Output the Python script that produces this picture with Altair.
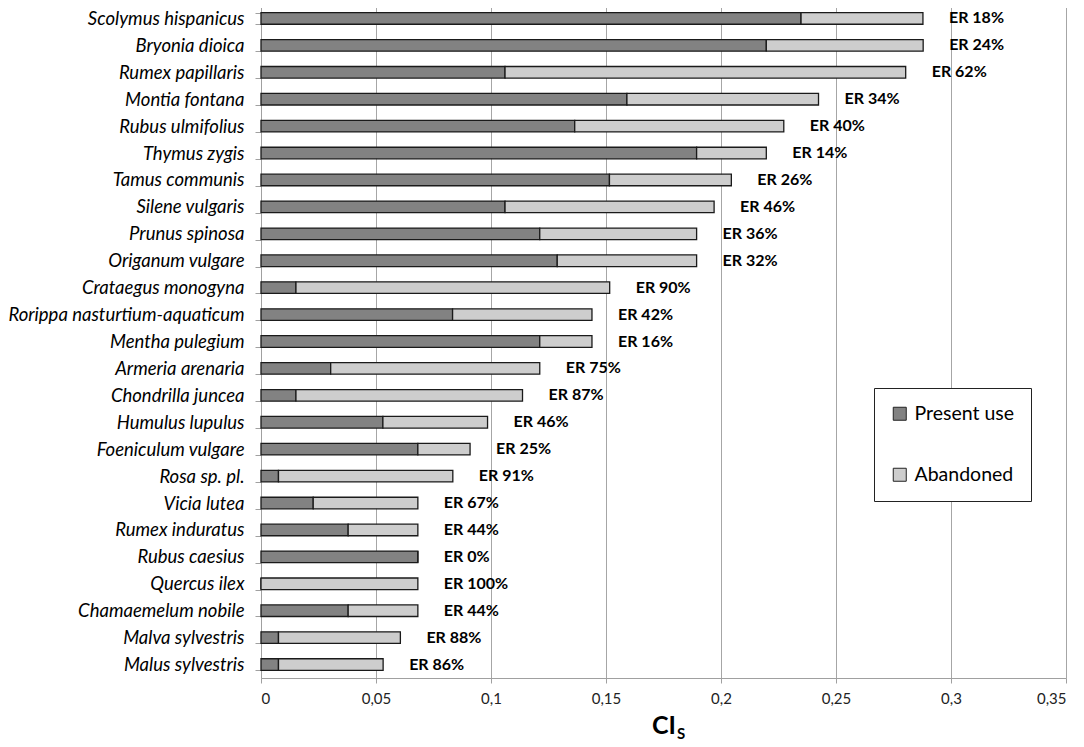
import altair as alt
import pandas as pd

species = [
    "Scolymus hispanicus", "Bryonia dioica", "Rumex papillaris", "Montia fontana",
    "Rubus ulmifolius", "Thymus zygis", "Tamus communis", "Silene vulgaris",
    "Prunus spinosa", "Origanum vulgare", "Crataegus monogyna",
    "Rorippa nasturtium-aquaticum", "Mentha pulegium", "Armeria arenaria",
    "Chondrilla juncea", "Humulus lupulus", "Foeniculum vulgare", "Rosa sp. pl.",
    "Vicia lutea", "Rumex induratus", "Rubus caesius", "Quercus ilex",
    "Chamaemelum nobile", "Malva sylvestris", "Malus sylvestris",
]
present = [0.2348, 0.2197, 0.1061, 0.1591, 0.1364, 0.1894, 0.1515, 0.1061,
           0.1212, 0.1288, 0.0152, 0.0833, 0.1212, 0.0303, 0.0152, 0.0530,
           0.0682, 0.0076, 0.0227, 0.0379, 0.0682, 0.0, 0.0379, 0.0076, 0.0076]
abandoned = [0.0530, 0.0682, 0.1742, 0.0833, 0.0909, 0.0303, 0.0530, 0.0909,
             0.0682, 0.0606, 0.1364, 0.0606, 0.0227, 0.0909, 0.0985, 0.0455,
             0.0227, 0.0758, 0.0455, 0.0303, 0.0, 0.0682, 0.0303, 0.0530, 0.0455]
er_labels = ["ER 18%", "ER 24%", "ER 62%", "ER 34%", "ER 40%", "ER 14%", "ER 26%",
             "ER 46%", "ER 36%", "ER 32%", "ER 90%", "ER 42%", "ER 16%", "ER 75%",
             "ER 87%", "ER 46%", "ER 25%", "ER 91%", "ER 67%", "ER 44%", "ER 0%",
             "ER 100%", "ER 44%", "ER 88%", "ER 86%"]
series = ["Present use", "Abandoned"]
x_ticks = [0, 0.05, 0.1, 0.15, 0.2, 0.25, 0.3, 0.35]

rows = []
for s, p, a in zip(species, present, abandoned):
    rows.append({"species": s, "series": "Present use", "value": p, "ord": 0})
    rows.append({"species": s, "series": "Abandoned", "value": a, "ord": 1})
bars_df = pd.DataFrame(rows)

lab_df = pd.DataFrame({
    "species": species,
    "total": [p + a for p, a in zip(present, abandoned)],
    "label": er_labels,
})

W, H = 805, 673

y_enc = alt.Y(
    "species:N",
    sort=species,
    title=None,
    scale=alt.Scale(paddingInner=0.57, paddingOuter=0.285),
    axis=alt.Axis(
        tickBand="extent", tickSize=6, tickColor="#a0a0a0", domainColor="#a0a0a0",
        labelFont="Lato", labelFontStyle="italic", labelFontSize=18.5,
        labelColor="#000000", labelPadding=11, labelLimit=320, grid=False,
    ),
)

x_scale = alt.Scale(domain=[0, 0.35], nice=False)

bars = alt.Chart(bars_df).mark_bar(stroke="#1a1a1a", strokeWidth=1.3).encode(
    x=alt.X(
        "sum(value):Q",
        scale=x_scale,
        title=None,
        axis=alt.Axis(
            values=x_ticks,
            labelExpr="replace(format(datum.value, '~g'), '.', ',')",
            grid=True, gridColor="#a6a6a6", gridWidth=1,
            tickSize=5, tickColor="#a0a0a0", domainColor="#a0a0a0",
            labelFont="Lato", labelFontSize=15, labelColor="#222222",
            labelPadding=8,
        ),
    ),
    y=y_enc,
    color=alt.Color(
        "series:N",
        scale=alt.Scale(domain=series, range=["#828282", "#cdcdcd"]),
        legend=alt.Legend(
            title=None, orient="none", legendX=613, legendY=383,
            strokeColor="#222222", fillColor="#ffffff", padding=16,
            symbolType="square", symbolSize=169, symbolStrokeColor="#222222",
            symbolStrokeWidth=1, symbolOpacity=1,
            labelFont="Lato", labelFontSize=19.5, labelColor="#000000",
            labelOffset=5, rowPadding=40,
        ),
    ),
    order=alt.Order("ord:Q"),
)

labels = alt.Chart(lab_df).mark_text(
    align="left", baseline="middle", dx=26, font="Lato", fontWeight="bold",
    fontSize=16, color="#000000",
).encode(
    x=alt.X("total:Q", scale=x_scale),
    y=alt.Y("species:N", sort=species),
    text="label:N",
)

title_ci = alt.Chart(pd.DataFrame({"t": ["CI"]})).mark_text(
    align="right", baseline="middle", font="Lato", fontWeight="bold",
    fontSize=25, color="#000000",
).encode(x=alt.value(415), y=alt.value(721), text="t:N")

title_s = alt.Chart(pd.DataFrame({"t": ["S"]})).mark_text(
    align="left", baseline="middle", font="Lato", fontWeight="bold",
    fontSize=15, color="#000000",
).encode(x=alt.value(416), y=alt.value(729), text="t:N")

chart = alt.layer(bars, labels, title_ci, title_s).properties(
    width=W, height=H,
    autosize=alt.AutoSizeParams(type="none"),
    padding={"left": 253, "top": -3, "right": 10, "bottom": 70},
    background="#ffffff",
).configure_view(strokeWidth=0).configure(font="Lato")

chart.save("out.html", embed_options={"renderer": "svg", "actions": False})
